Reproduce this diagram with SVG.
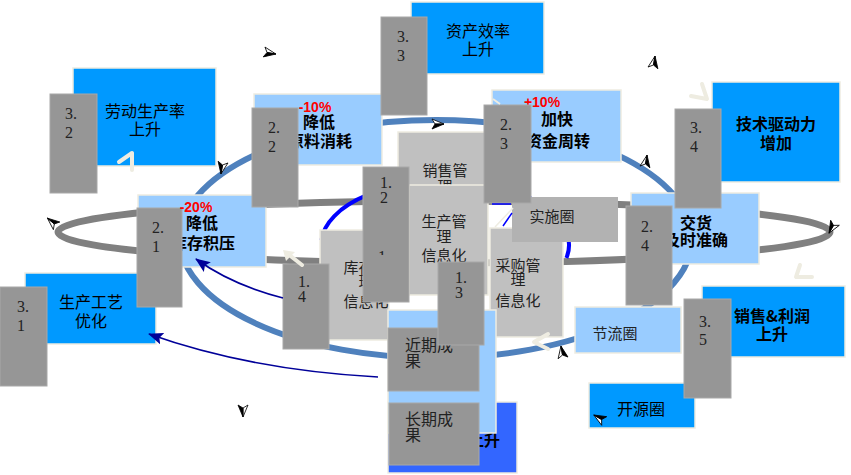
<svg xmlns="http://www.w3.org/2000/svg" width="851" height="475" viewBox="0 0 851 475">
<defs>
<style>
.lbl{font-family:'Noto Sans CJK SC','Noto Sans',sans-serif;font-size:16px;fill:#000;text-anchor:middle}
.b{font-weight:700}
.pct{font-family:'Liberation Sans',Arial,sans-serif;font-size:14px;font-weight:700;fill:#FF0000;text-anchor:middle}
.num{font-family:'Liberation Serif','Noto Sans CJK SC',serif;font-size:16px;fill:#222}
.info{font-family:'Noto Sans CJK SC',sans-serif;font-size:15px;fill:#222;text-anchor:middle}
.res{font-family:'Noto Sans CJK SC',sans-serif;font-size:16px;fill:#222}
.dk{fill:#0099FF;stroke:#EEECE1;stroke-width:1.5}
.lt{fill:#99CCFF;stroke:#EEECE1;stroke-width:1.5}
.gy{fill:#C0C0C0;stroke:#EEECE1;stroke-width:1.5}
.nb{fill:#969696;stroke:#A8A8A8;stroke-width:1}
.pale{fill:none;stroke:#EEECE1;stroke-width:4;stroke-linecap:round;stroke-linejoin:round}
.navy{fill:none;stroke:#000099;stroke-width:1.6}
</style>
<marker id="navyHead" markerWidth="15" markerHeight="12" refX="14" refY="6" orient="auto" markerUnits="userSpaceOnUse">
<path d="M0,0 L15,6 L0,12 L3,6 Z" fill="#000099"/>
</marker>
<g id="tip">
<path d="M6,0 L-6,-5 L-3,0 Z" fill="#fff" stroke="#000" stroke-width="0.8"/>
<path d="M6,0 L-6,5 L-3,0 Z" fill="#000" stroke="#000" stroke-width="0.8"/>
</g>
<clipPath id="cut11"><rect x="360" y="240" width="50" height="15"/></clipPath>
</defs>
<rect width="851" height="475" fill="#fff"/>

<!-- loops: outer gray cycle, blue cycle, inner blue arc -->
<g id="loops">
<ellipse cx="444" cy="232" rx="386" ry="31" fill="none" stroke="#808080" stroke-width="7"/>
<ellipse cx="436" cy="239" rx="256" ry="119" fill="none" stroke="#4F81BD" stroke-width="6"/>
<path d="M321.4,240 A124,64 0 1 1 566.4,258" fill="none" stroke="#0000FF" stroke-width="4"/>
</g>

<!-- goals (outer ring) -->
<g id="n-labor"><rect class="dk" x="73" y="68" width="143" height="98"/><text class="lbl" x="145" y="117">劳动生产率</text><text class="lbl" x="145" y="135">上升</text></g>
<g id="n-asset"><rect class="dk" x="411" y="2" width="133" height="72"/><text class="lbl" x="478" y="37">资产效率</text><text class="lbl" x="478" y="55">上升</text></g>
<g id="n-tech"><rect class="dk" x="712" y="82" width="128" height="100"/><text class="lbl b" x="776" y="130">技术驱动力</text><text class="lbl b" x="776" y="149">增加</text></g>
<g id="n-process"><rect class="dk" x="25" y="273" width="131" height="71"/><text class="lbl" x="91" y="308">生产工艺</text><text class="lbl" x="91" y="327">优化</text></g>
<g id="n-sales"><rect class="dk" x="702" y="286" width="143" height="71"/><text class="lbl b" x="772" y="322">销售&amp;利润</text><text class="lbl b" x="772" y="340">上升</text></g>
<g id="n-open"><rect class="dk" x="589" y="383" width="106" height="45"/><text class="lbl" x="641" y="415">开源圈</text></g>

<!-- targets (middle ring) -->
<g id="n-material"><rect class="lt" x="254" y="94" width="128" height="71"/><text class="pct" x="315" y="112">-10%</text><text class="lbl b" x="319" y="128">降低</text><text class="lbl b" x="320" y="147">原料消耗</text></g>
<g id="n-cash"><rect class="lt" x="492" y="90" width="129" height="72"/><text class="pct" x="542" y="107">+10%</text><text class="lbl b" x="557" y="125">加快</text><text class="lbl b" x="558" y="147">资金周转</text></g>
<g id="n-stock"><rect class="lt" x="138" y="195" width="128" height="72"/><text class="lbl b" x="202" y="229">降低</text><text class="lbl b" x="203" y="249">库存积压</text></g>
<g id="n-delivery"><rect class="lt" x="631" y="193" width="128" height="71"/><text class="lbl b" x="696" y="229">交货</text><text class="lbl b" x="696" y="246">及时准确</text></g>
<g id="n-save"><rect class="lt" x="575" y="307" width="106" height="46"/><text class="info" x="615" y="339">节流圈</text></g>

<!-- information systems (inner ring) -->
<g id="n-inv"><rect class="gy" x="320" y="230" width="69" height="110"/><text class="info" x="366" y="273">库存管</text><text class="info" x="366" y="287">理</text><text class="info" x="366" y="307">信息化</text></g>
<g id="n-sell"><rect class="gy" x="398" y="132" width="90" height="55"/><text class="info" x="445" y="176">销售管</text><text class="info" x="445" y="192">理</text></g>
<g id="n-prod"><rect class="gy" x="409" y="185" width="79" height="110"/><text class="info" x="444" y="227">生产管</text><text class="info" x="444" y="242">理</text><text class="info" x="444" y="261">信息化</text></g>
<g id="n-buy"><rect class="gy" x="490" y="228" width="73" height="109"/><text class="info" x="518" y="271">采购管</text><text class="info" x="518" y="285">理</text><text class="info" x="518" y="306">信息化</text></g>
<g id="n-impl"><rect x="512" y="197" width="106" height="45" fill="#B2B2B2"/><text class="info" x="552" y="222">实施圈</text></g>

<!-- results -->
<g id="n-long-bg"><rect x="388" y="402" width="129" height="71" fill="#3366FF" stroke="#EEECE1" stroke-width="1.5"/><text class="lbl b" x="484" y="446">上升</text></g>
<g id="n-results"><rect class="lt" x="388" y="310" width="108" height="123"/></g>
<g id="n-near"><rect class="nb" x="388" y="328" width="91" height="63"/><text class="res" x="405" y="351">近期成</text><text class="res" x="405" y="367">果</text></g>
<g id="n-long"><rect class="nb" x="389" y="403" width="90" height="62"/><text class="res" x="405" y="425">长期成</text><text class="res" x="405" y="441">果</text></g>

<!-- step numbers -->
<g id="s32"><rect class="nb" x="50" y="94" width="47" height="99"/><text class="num" x="65" y="119">3.</text><text class="num" x="65" y="138">2</text></g>
<g id="s22"><rect class="nb" x="252" y="108" width="46" height="99"/><text class="num" x="268" y="133">2.</text><text class="num" x="268" y="152">2</text></g>
<g id="s33"><rect class="nb" x="381" y="17" width="46" height="98"/><text class="num" x="397" y="42">3.</text><text class="num" x="397" y="61">3</text></g>
<g id="s23"><rect class="nb" x="484" y="105" width="47" height="98"/><text class="num" x="500" y="130">2.</text><text class="num" x="500" y="149">3</text></g>
<g id="s34"><rect class="nb" x="675" y="109" width="46" height="99"/><text class="num" x="690" y="133">3.</text><text class="num" x="690" y="152">4</text></g>
<g id="s21"><rect class="nb" x="137" y="208" width="45" height="99"/><text class="num" x="152" y="233">2.</text><text class="num" x="152" y="252">1</text></g>
<g id="s31"><rect class="nb" x="0" y="287" width="47" height="99"/><text class="num" x="17" y="312">3.</text><text class="num" x="17" y="331">1</text></g>
<g id="s24"><rect class="nb" x="626" y="206" width="46" height="99"/><text class="num" x="641" y="232">2.</text><text class="num" x="641" y="251">4</text></g>
<g id="s35"><rect class="nb" x="684" y="299" width="47" height="99"/><text class="num" x="699" y="327">3.</text><text class="num" x="699" y="345">5</text></g>
<g id="s12"><rect class="nb" x="363" y="167" width="46" height="135"/><text class="num" x="380" y="188">1.</text><text class="num" x="380" y="203">2</text><text class="num" x="378" y="262" clip-path="url(#cut11)">1</text></g>
<g id="s14"><rect class="nb" x="283" y="264" width="46" height="85"/><text class="num" x="298" y="287">1.</text><text class="num" x="298" y="302">4</text></g>
<g id="s13"><rect class="nb" x="438" y="262" width="46" height="83"/><text class="num" x="455" y="283">1.</text><text class="num" x="455" y="298">3</text></g>

<!-- stock target's percentage sits above its step box -->
<text class="pct" x="196" y="212">-20%</text>

<!-- connectors -->
<g id="connectors">
<path class="navy" d="M283,298 Q232,285 196,259" marker-end="url(#navyHead)"/>
<path class="navy" d="M378,377 Q250,370 149,334" marker-end="url(#navyHead)"/>
<path d="M492,204 L511,204 M503,226 L512,213" fill="none" stroke="#0000FF" stroke-width="1.5"/>
<path d="M495,227 L513,208" fill="none" stroke="#EEECE1" stroke-width="1.5"/>
<path class="pale" d="M119,162 L132,153 L132,170"/>
<path class="pale" d="M302,265 L288,254"/>
<path d="M283,250 L295,252 L286,261 Z" fill="#EEECE1"/>
<path class="pale" d="M548,334 L534,342 L548,349"/>
<path class="pale" d="M702,84 L707,99 L691,96"/>
<path class="pale" d="M800,265 L796,277 L812,277"/>
<path d="M493,99 L500,104" fill="none" stroke="#EEECE1" stroke-width="2"/>
<use href="#tip" transform="translate(270,53) rotate(10)"/>
<use href="#tip" transform="translate(222,168) rotate(100)"/>
<use href="#tip" transform="translate(438,124) rotate(0)"/>
<use href="#tip" transform="translate(654,62) rotate(-80)"/>
<use href="#tip" transform="translate(646,161) rotate(-80)"/>
<use href="#tip" transform="translate(52,222) rotate(-140)"/>
<use href="#tip" transform="translate(832,228) rotate(120)"/>
<use href="#tip" transform="translate(562,352) rotate(-100)"/>
<use href="#tip" transform="translate(599,418) rotate(-150)"/>
<use href="#tip" transform="translate(243,411) rotate(90)"/>
</g>
</svg>
